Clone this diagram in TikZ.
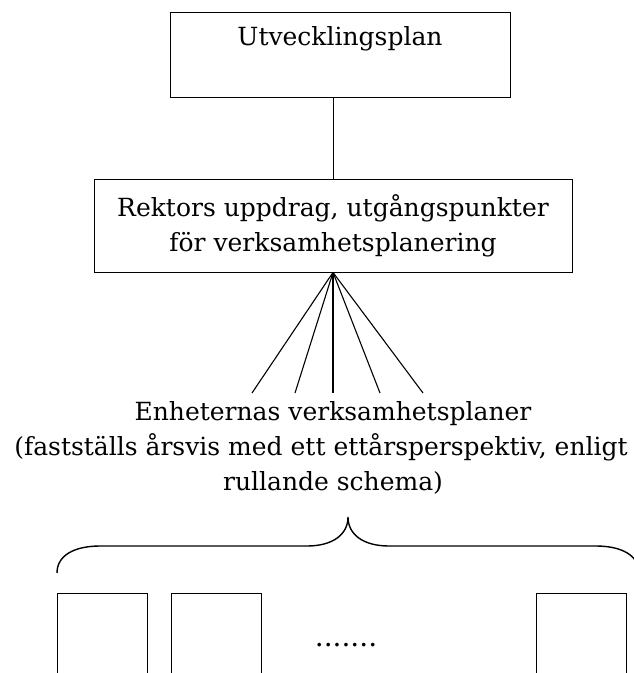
\documentclass[tikz,border=0pt]{standalone}
\usepackage{fontspec}
\setmainfont{DejaVu Serif}

\tikzset{
  planbox/.style={draw, inner sep=0pt},
  plantext/.style={font=\fontsize{25}{35}\selectfont, align=center},
}

\begin{document}
\begin{tikzpicture}[x=1pt,y=-1pt,line width=0.8pt]

\useasboundingbox (0,0) rectangle (633,673) ;

% boxes at the top
\node[planbox,font=\fontsize{25}{35}\selectfont,minimum width=340pt,text height=33pt,text depth=52pt,anchor=base] (plan) at (340,45) {Utvecklingsplan} ;
\node[planbox,plantext,minimum width=478pt,minimum height=93pt] (rektor) at (333,225.5) {Rektors uppdrag, utgångspunkter\\för verksamhetsplanering} ;

\draw (rektor.north |- plan.south) -- (rektor.north) ;

% fan
\foreach \x [count=\i] in {252,295,333,380,423}
  \coordinate (fan\i) at (\x,393) ;
\foreach \i in {1,...,5}
  \draw[line width=1.1pt] (rektor.south) -- (fan\i) ;

\node[plantext,anchor=north] (enheter) at (333,398) {Enheternas verksamhetsplaner\\(fastställs årsvis med ett ettårsperspektiv, enligt\hbox to 24pt{}\\rullande schema)} ;

% brace
\coordinate (spets) at (348,517) ;
\draw[line width=1.4pt] (57,573) .. controls (57,555) and (75,546) .. (100,546) -- (307,546)
  .. controls (332,546) and (348,535) .. (spets)
  .. controls (348,535) and (364,546) .. (389,546) -- (596,546)
  .. controls (621,546) and (639,555) .. (639,573) ;

% units
\node[planbox,minimum width=90pt,minimum height=100pt] (enhet1) at (102,643) {} ;
\node[planbox,minimum width=90pt,minimum height=100pt] (enhet2) at (216,643) {} ;
\node[planbox,minimum width=90pt,minimum height=100pt] (enhet3) at (581,643) {} ;
\node[font=\fontsize{28}{34}\selectfont,anchor=base] (prickar) at (346,646) {.......} ;

\end{tikzpicture}
\end{document}
